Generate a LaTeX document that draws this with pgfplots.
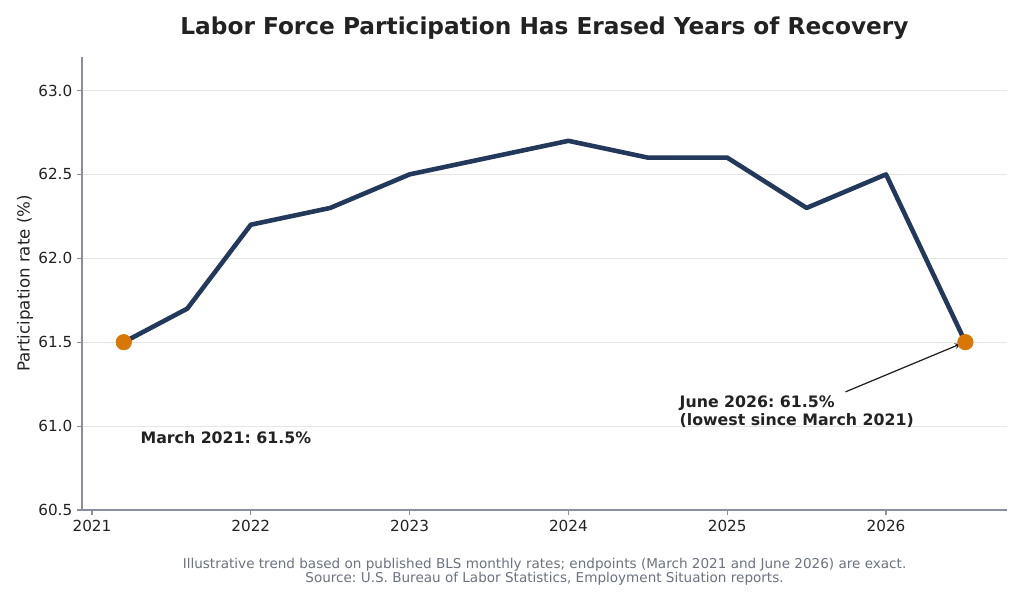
\documentclass[border=0pt]{standalone}
\usepackage{pgfplots}
\pgfplotsset{compat=1.18}
\usepackage{fontspec}
\setmainfont{DejaVu Sans}
\frenchspacing
\definecolor{navy}{HTML}{22395B}
\definecolor{orng}{HTML}{D97706}
\definecolor{txt}{HTML}{222222}
\definecolor{foot}{HTML}{6B7280}
\definecolor{spine}{HTML}{8A8FA0}
\definecolor{gridc}{HTML}{E6E6E6}
\begin{document}
\begin{tikzpicture}[x=1bp,y=1bp]
\path (0,0) rectangle (737.28,434.88);
\begin{axis}[
  at={(59.04bp,67.68bp)}, anchor=south west,
  scale only axis, width=666bp, height=326.2bp,
  xmin=2020.937, xmax=2026.762, ymin=60.5, ymax=63.2,
  axis lines*=left,
  axis line style={spine, line width=0.8bp},
  xtick={2021,2022,2023,2024,2025,2026},
  ytick={60.5,61.0,61.5,62.0,62.5,63.0},
  xticklabel style={/pgf/number format/.cd, set thousands separator={}, fixed},
  yticklabel style={/pgf/number format/.cd, fixed, fixed zerofill, precision=1},
  /pgf/number format/assume math mode=true,
  ticklabel style={font=\fontsize{11}{13}\selectfont, text=txt},
  tick style={spine, line width=0.8bp},
  tick align=outside, major tick length=3.5bp,
  ymajorgrids, grid style={gridc, line width=0.8bp},
  ylabel={Participation rate (\%)},
  ylabel style={font=\fontsize{12}{14}\selectfont, text=txt, yshift=-3bp},
  clip=false,
]
\addplot[navy, line width=3.3bp, line join=round] coordinates {
(2021.2,61.5) (2021.6,61.7) (2022.0,62.2) (2022.5,62.3) (2023.0,62.5)
(2024.0,62.7) (2024.5,62.6) (2025.0,62.6) (2025.5,62.3) (2026.0,62.5) (2026.5,61.5)};
\addplot[only marks, mark=*, mark size=5.6bp, orng, mark options={draw=orng, fill=orng}] coordinates {
(2021.2,61.5) (2026.5,61.5)};
\node[anchor=west, font=\bfseries\fontsize{11.4}{14}\selectfont, text=txt] at (axis cs:2021.275,60.93) {March 2021: 61.5\%};
\node[anchor=west, align=left, font=\bfseries\fontsize{11.4}{13}\selectfont, text=txt] at (axis cs:2024.67,61.085) {June 2026: 61.5\%\\(lowest since March 2021)};
\draw[->, >=stealth, txt, line width=0.9bp] (axis cs:2025.745,61.204) -- (axis cs:2026.47,61.49);
\end{axis}
\node[font=\bfseries\fontsize{16.8}{20}\selectfont, text=txt, anchor=base] at (392.04,409.7) {Labor Force Participation Has Erased Years of Recovery};
\node[font=\fontsize{9.8}{10.1}\selectfont, text=foot, align=center, anchor=north] at (392.04,36.5) {Illustrative trend based on published BLS monthly rates; endpoints (March 2021 and June 2026) are exact.\\Source: U.S. Bureau of Labor Statistics, Employment Situation reports.};
\end{tikzpicture}
\end{document}
